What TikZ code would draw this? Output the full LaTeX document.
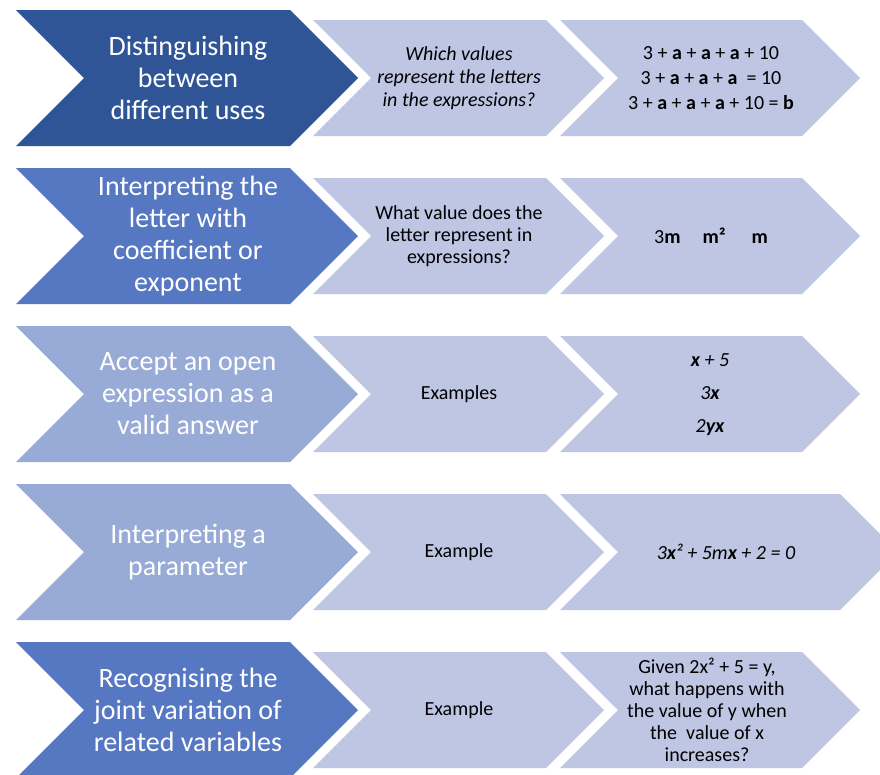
\documentclass[tikz,border=0pt]{standalone}
\usepackage{fontspec}
\setmainfont{Carlito}
\definecolor{cdark}{RGB}{47,85,151}
\definecolor{cmid}{RGB}{86,119,194}
\definecolor{clight}{RGB}{152,170,214}
\definecolor{cpale}{RGB}{190,198,228}
% #1 left x, #2 shoulder x, #3 half height, #4 centre y, #5 colour
\newcommand{\mychev}[5]{%
  \fill[#5] (#1,#4-#3) -- (#2,#4-#3) -- (#2+#3,#4) -- (#2,#4+#3) -- (#1,#4+#3) -- (#1+#3,#4) -- cycle;}
\tikzset{
  bigtxt/.style={text=white, font=\fontsize{28}{32}\selectfont, align=center, inner sep=0pt},
  midtxt/.style={text=black, font=\fontsize{20}{22}\selectfont, align=center, inner sep=0pt},
  rtxt/.style={text=black, font=\fontsize{20}{25}\selectfont, align=center, inner sep=0pt}
}
\begin{document}
\begin{tikzpicture}[x=1pt,y=-1pt]
\useasboundingbox (0,0) rectangle (880,774);
\clip (0,0) rectangle (880,774);
% row 1
\mychev{313}{546}{58}{78}{cpale}
\mychev{560}{802}{58}{78}{cpale}
\mychev{16}{290}{68}{78}{cdark}
% row 2
\mychev{313}{546}{58}{236}{cpale}
\mychev{560}{802}{58}{236}{cpale}
\mychev{16}{290}{68}{236}{cmid}
% row 3
\mychev{313}{546}{58}{394}{cpale}
\mychev{560}{802}{58}{394}{cpale}
\mychev{16}{290}{68}{394}{clight}
% row 4
\mychev{313}{546}{58}{552}{cpale}
\mychev{560}{840}{58}{552}{cpale}
\mychev{16}{290}{68}{552}{clight}
% row 5
\mychev{313}{546}{58}{710}{cpale}
\mychev{560}{802}{58}{710}{cpale}
\mychev{16}{290}{68}{710}{cmid}
% big labels
\node[bigtxt] (b1) at (188,78) {Distinguishing\\between\\different uses};
\node[bigtxt] (b2) at (188,236) {Interpreting the\\letter with\\coefficient or\\exponent};
\node[bigtxt] (b3) at (188,394) {Accept an open\\expression as a\\valid answer};
\node[bigtxt] (b4) at (188,552) {Interpreting a\\parameter};
\node[bigtxt] (b5) at (188,710) {Recognising the\\joint variation of\\related variables};
% middle
\node[midtxt, font=\fontsize{20}{23}\selectfont\itshape] (m1) at (459,78) {Which values\\represent the letters\\in the expressions?};
\node[midtxt] (m2) at (459,236) {What value does the\\letter represent in\\expressions?};
\node[midtxt] (m3) at (459,394) {Examples};
\node[midtxt] (m4) at (459,552) {Example};
\node[midtxt] (m5) at (459,710) {Example};
% right
\node[rtxt] (r1) at (711,78) {3 + \textbf{a} + \textbf{a} + \textbf{a} + 10\\3 + \textbf{a} + \textbf{a} + \textbf{a} \ = 10\\3 + \textbf{a} + \textbf{a} + \textbf{a} + 10 = \textbf{b}};
\node[rtxt] (r2) at (711,236) {3\textbf{m}\hspace{22pt}\textbf{m²}\hspace{26pt}\textbf{m}};
\node[rtxt, font=\fontsize{20}{33}\selectfont\itshape] (r3) at (710,395) {\textbf{x} + 5\\3\textbf{x}\\2\textbf{yx}};
\node[rtxt, font=\fontsize{20}{25}\selectfont\itshape] (r4) at (726,552) {3\textbf{x}² + 5m\textbf{x} + 2 = 0};
\node[midtxt] (r5) at (707,710) {Given 2x² + 5 = y,\\what happens with\\the value of y when\\the\ \ value of x\\increases?};
\end{tikzpicture}
\end{document}
